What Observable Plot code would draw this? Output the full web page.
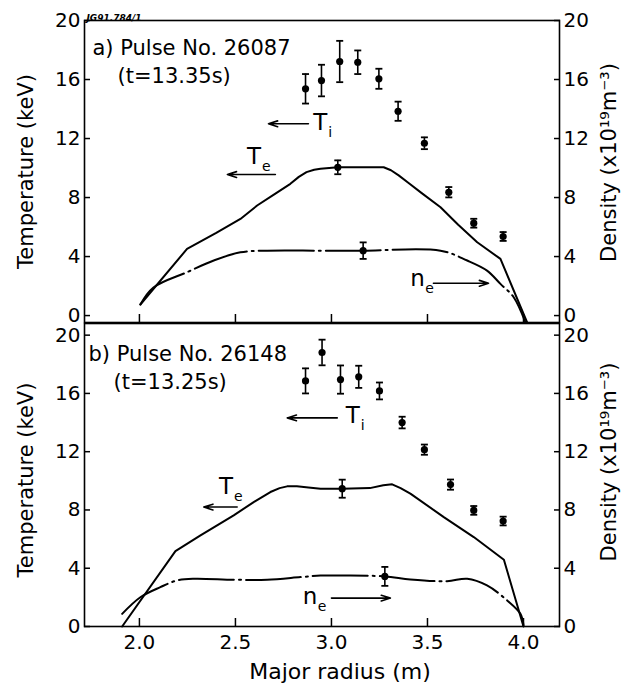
<!DOCTYPE html>
<html><head><meta charset="utf-8">
<script src="https://cdn.jsdelivr.net/npm/d3@7"></script>
<script src="https://cdn.jsdelivr.net/npm/@observablehq/plot@0.6"></script>
<style>
body{margin:0;background:#fff;}
#chart{position:relative;width:623px;height:693px;overflow:hidden;background:#fff;}
#chart svg{position:absolute;left:0;}
</style></head><body><div id="chart"></div>
<script>
// ---------- shared ticks ----------
const xTicks = [2.0, 2.5, 3.0, 3.5, 4.0];
const yTicks = [0, 4, 8, 12, 16, 20];

// ---------- panel a: Pulse No. 26087 ----------
const tiR_a   = [2.865, 2.948, 3.043, 3.137, 3.247, 3.347, 3.484, 3.611, 3.741, 3.894];
const ti_a    = [15.37, 15.93, 17.22, 17.17, 16.05, 13.85, 11.68, 8.36, 6.26, 5.36];
const tiErr_a = [1.0, 1.07, 1.4, 0.8, 0.68, 0.65, 0.4, 0.35, 0.3, 0.3];
const teR_a   = [2.005, 2.248, 2.40, 2.526, 2.613, 2.70, 2.786, 2.83, 2.87, 2.91, 2.943, 3.033, 3.15, 3.272, 3.31, 3.35, 3.40, 3.47, 3.568, 3.66, 3.759, 3.880, 4.019];
const te_a    = [0.75, 4.52, 5.6, 6.55, 7.46, 8.2, 8.93, 9.4, 9.72, 9.88, 9.95, 10.05, 10.05, 10.05, 9.85, 9.5, 9.0, 8.3, 7.34, 6.15, 4.97, 3.84, -0.47];
const neR_a   = [2.005, 2.073, 2.248, 2.387, 2.526, 2.665, 2.943, 3.165, 3.568, 3.707, 3.81, 3.88, 3.949, 4.01];
const ne_a    = [0.75, 1.9, 2.94, 3.73, 4.29, 4.4, 4.4, 4.4, 4.4, 3.73, 3.05, 2.15, 1.24, -0.47];
const errR_a  = [3.033, 3.165];      // Te and ne error bars
const errV_a  = [10.05, 4.4];
const errE_a  = [0.47, 0.56];

// ---------- panel b: Pulse No. 26148 ----------
const tiR_b   = [2.865, 2.951, 3.047, 3.142, 3.25, 3.368, 3.484, 3.62, 3.741, 3.894];
const ti_b    = [16.86, 18.81, 16.95, 17.14, 16.17, 14.0, 12.14, 9.74, 7.97, 7.24];
const tiErr_b = [0.86, 0.88, 0.97, 0.76, 0.58, 0.4, 0.35, 0.35, 0.3, 0.3];
const teR_b   = [1.91, 2.1875, 2.318, 2.491, 2.595, 2.682, 2.73, 2.769, 2.82, 2.88, 2.943, 3.056, 3.2, 3.27, 3.316, 3.36, 3.411, 3.585, 3.741, 3.898, 4.0];
const te_b    = [0, 5.17, 6.25, 7.63, 8.54, 9.23, 9.5, 9.62, 9.62, 9.55, 9.46, 9.46, 9.5, 9.7, 9.76, 9.5, 9.12, 7.51, 6.14, 4.58, 0];
const neR_b   = [1.91, 2.005, 2.109, 2.196, 2.283, 2.491, 2.665, 2.839, 2.943, 3.056, 3.278, 3.411, 3.602, 3.707, 3.81, 3.915, 3.984, 4.0];
const ne_b    = [0.87, 2.01, 2.7, 3.16, 3.28, 3.21, 3.21, 3.39, 3.5, 3.5, 3.44, 3.23, 3.11, 3.28, 2.82, 1.79, 0.87, 0.1];
const errR_b  = [3.056, 3.278];
const errV_b  = [9.46, 3.44];
const errE_b  = [0.62, 0.65];

// ---------- annotation labels ----------
const labelText = ["T", "T", "n"];
const labelSub  = ["i", "e", "e"];
const labX_a = [2.905, 2.56, 3.41];
const labY_a = [13.1, 10.8, 2.5];
const arrX1_a = [2.88, 2.708, 3.531];
const arrX2_a = [2.672, 2.458, 3.818];
const arrY_a  = [13.0, 9.56, 2.19];
const labX_b = [3.075, 2.415, 2.85];
const labY_b = [14.45, 9.6, 2.05];
const arrX1_b = [3.03, 2.509, 3.0];
const arrX2_b = [2.77, 2.335, 3.307];
const arrY_b  = [14.32, 8.2, 1.95];

const FONT = "DejaVu Sans";
const capSymbol = {draw(ctx, size) { const w = Math.sqrt(size / Math.PI); ctx.moveTo(-w, 0); ctx.lineTo(w, 0); }};

function zip(xs, ys) { return xs.map((x, i) => ({x, y: ys[i]})); }

function panel(c) {
  const ti = c.tiR.map((x, i) => ({x, y: c.ti[i], e: c.tiErr[i]}));
  const err = c.errR.map((x, i) => ({x, y: c.errV[i], e: c.errE[i]}));
  const bars = ti.concat(err);
  const te = zip(c.teR, c.te);
  const ne = zip(c.neR, c.ne);
  const labs = c.labX.map((x, i) => ({x, y: c.labY[i], t: labelText[i], s: labelSub[i]}));
  const arrs = c.arrX1.map((x1, i) => ({x1, x2: c.arrX2[i], y: c.arrY[i]}));
  return Plot.plot({
    width: 623, height: c.height,
    marginLeft: 84, marginRight: 64, marginTop: c.mt, marginBottom: c.mb,
    style: {background: "transparent", fontFamily: FONT, fontSize: "20px", color: "black", overflow: "visible"},
    x: {domain: [1.714, 4.1875]},
    y: {domain: c.yDomain},
    marks: [
      Plot.frame({strokeWidth: 1.6}),
      Plot.axisY({ticks: yTicks, anchor: "left", tickSize: 6, dx: 6, tickPadding: 4, label: null, fontSize: 20, strokeWidth: 1.5}),
      Plot.axisY({ticks: yTicks, anchor: "right", tickSize: 6, dx: -6, tickPadding: 4, label: null, fontSize: 20, strokeWidth: 1.5}),
      Plot.axisX({ticks: xTicks, anchor: "bottom", tickSize: 8, dy: -8, tickPadding: 8, label: null, fontSize: 20, strokeWidth: 1.5,
                  tickFormat: c.showX ? d3.format(".1f") : () => ""}),
      Plot.line(te, {x: "x", y: "y", curve: "linear", strokeWidth: 2, strokeLinejoin: "round"}),
      Plot.line(ne, {x: "x", y: "y", curve: "catmull-rom", strokeWidth: 2, strokeDasharray: "55,5,2,5"}),
      Plot.ruleX(bars, {x: "x", y1: d => d.y - d.e, y2: d => d.y + d.e, strokeWidth: 1.6}),
      Plot.dot(bars, {x: "x", y: d => d.y + d.e, symbol: capSymbol, r: 3.5, fill: "none", stroke: "black", strokeWidth: 1.8}),
      Plot.dot(bars, {x: "x", y: d => d.y - d.e, symbol: capSymbol, r: 3.5, fill: "none", stroke: "black", strokeWidth: 1.8}),
      Plot.dot(bars, {x: "x", y: "y", r: 3.6, fill: "black", stroke: null}),
      Plot.arrow(arrs, {x1: "x1", y1: "y", x2: "x2", y2: "y", strokeWidth: 1.6, headLength: 9, headAngle: 35}),
      Plot.text(labs, {x: "x", y: "y", text: "t", textAnchor: "start", fontSize: 23, fill: "black"}),
      Plot.text(labs, {x: "x", y: "y", text: "s", textAnchor: "start", fontSize: 14, dx: 15, dy: 10, fill: "black"}),
      Plot.text([c.title], {frameAnchor: "top-left", textAnchor: "start", dx: c.tdx, dy: c.tdy, fontSize: 21}),
      Plot.text([c.time], {frameAnchor: "top-left", textAnchor: "start", dx: c.tdx + 25, dy: c.tdy + 28, fontSize: 21}),
      Plot.text(["Temperature (keV)"], {frameAnchor: "left", textAnchor: "middle", dx: -58, dy: c.ldy, rotate: -90, fontSize: 21}),
      Plot.text(["Density (x10¹⁹m⁻³)"], {frameAnchor: "right", textAnchor: "middle", dx: 50, dy: c.rdy, rotate: -90, fontSize: 21}),
      ...(c.extra || [])
    ]
  });
}

const topPlot = panel({
  height: 330, mt: 20, mb: 8, yDomain: [-0.47, 20], showX: false,
  tiR: tiR_a, ti: ti_a, tiErr: tiErr_a, teR: teR_a, te: te_a, neR: neR_a, ne: ne_a,
  errR: errR_a, errV: errV_a, errE: errE_a,
  labX: labX_a, labY: labY_a, arrX1: arrX1_a, arrX2: arrX2_a, arrY: arrY_a,
  title: "a) Pulse No. 26087", time: "(t=13.35s)", tdx: 8, tdy: 20, ldy: 0, rdy: -9,
  extra: [Plot.text(["JG91.784/1"], {frameAnchor: "top-left", textAnchor: "start", dx: 2, dy: -6, fontSize: 9, fontWeight: "bold", fontStyle: "italic"})]
});
topPlot.style.top = "0px";

const bottomPlot = panel({
  height: 393, mt: 23, mb: 67, yDomain: [0, 20.8], showX: true,
  tiR: tiR_b, ti: ti_b, tiErr: tiErr_b, teR: teR_b, te: te_b, neR: neR_b, ne: ne_b,
  errR: errR_b, errV: errV_b, errE: errE_b,
  labX: labX_b, labY: labY_b, arrX1: arrX1_b, arrX2: arrX2_b, arrY: arrY_b,
  title: "b) Pulse No. 26148", time: "(t=13.25s)", tdx: 4, tdy: 23, ldy: 5, rdy: -13,
  extra: [Plot.text(["Major radius (m)"], {frameAnchor: "bottom", dx: 18, dy: 52, fontSize: 22})]
});
bottomPlot.style.top = "300px";

const chart = document.getElementById("chart");
chart.appendChild(topPlot);
chart.appendChild(bottomPlot);
</script></body></html>
